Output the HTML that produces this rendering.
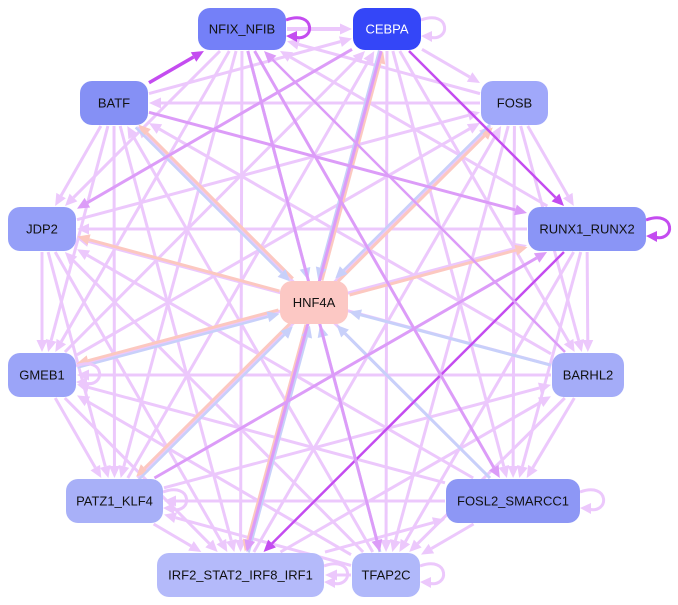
<!DOCTYPE html>
<html><head><meta charset="utf-8"><style>
body{margin:0;background:#fff;width:678px;height:605px;overflow:hidden}
svg{display:block}
text{font-family:"Liberation Sans",sans-serif;font-size:13px;text-anchor:middle;dominant-baseline:central}
</style></head><body>
<svg id="s" width="678" height="605" xmlns="http://www.w3.org/2000/svg"><g id="e"></g><g id="n"></g></svg>
<script>
var N={
NFIX:[198,8,88,42,"#7480f8","NFIX_NFIB","#111"],
CEBPA:[353,8,68,42,"#3446f8","CEBPA","#fff"],
BATF:[80,81,68,44,"#8590f5","BATF","#111"],
FOSB:[481,81,67,44,"#a0a8fa","FOSB","#111"],
JDP2:[8,207,68,44,"#959ff8","JDP2","#111"],
RUNX1:[528,207,118,44,"#8a95f6","RUNX1_RUNX2","#111"],
HNF4A:[280,281,68,43,"#fcc8c4","HNF4A","#111"],
GMEB1:[8,353,68,44,"#9ba4f8","GMEB1","#111"],
BARHL2:[552,353,72,44,"#a4acf8","BARHL2","#111"],
PATZ1:[66,479,97,44,"#a8b0f8","PATZ1_KLF4","#111"],
FOSL2:[446,479,134,44,"#8d97f5","FOSL2_SMARCC1","#111"],
IRF2:[157,553,167,44,"#b4bafa","IRF2_STAT2_IRF8_IRF1","#111"],
TFAP2C:[352,553,68,44,"#b0b8fa","TFAP2C","#111"]};
var L="#ecc8fc",M="#dc9cf8",D="#c44cf0",P="#fcc8c0",B="#c8d0fa";
var per=["NFIX","CEBPA","BATF","FOSB","JDP2","RUNX1","GMEB1","BARHL2","PATZ1","FOSL2","IRF2","TFAP2C"];
var E=[],S=[];
var special={};
function add(a,b,c,w,o){S.push([a,b,c,w,o||0]);special[a+"-"+b]=1;special[b+"-"+a]=1;}
["BATF","JDP2","GMEB1","PATZ1","IRF2","CEBPA","FOSB","RUNX1"].forEach(function(t){S.push(["HNF4A",t,P,3,2])});
["BATF","CEBPA","FOSB","IRF2","GMEB1","PATZ1"].forEach(function(t){S.push([t,"HNF4A",B,2.5,2])});
["NFIX","FOSL2","BARHL2","TFAP2C"].forEach(function(t){S.push([t,"HNF4A",B,3,0])});
add("BATF","NFIX",D,3.5);add("CEBPA","RUNX1",D,2.5);add("RUNX1","IRF2",D,2.5);
add("NFIX","TFAP2C",M,3);add("NFIX","FOSL2",M,3);add("BATF","RUNX1",M,3);
add("CEBPA","JDP2",M,3);add("PATZ1","RUNX1",M,3);add("CEBPA","IRF2",M,3);
add("BARHL2","NFIX",M,2.5);add("NFIX","CEBPA",L,4);
per.forEach(function(a,i){per.forEach(function(b,j){if(j>i&&!special[a+"-"+b]){
 if((i*7+j*3)%2==0)E.push([a,b,L,3,0]);else E.push([b,a,L,3,0]);}})});
E=E.concat(S);
function c(k){var n=N[k];return[n[0]+n[2]/2,n[1]+n[3]/2];}
function clip(k,dx,dy){var n=N[k],hw=n[2]/2+1,hh=n[3]/2+1;return Math.min(Math.abs(hw/(dx||1e-9)),Math.abs(hh/(dy||1e-9)));}
var g=document.getElementById("e"),h="";
E.forEach(function(e){var p=c(e[0]),q=c(e[1]);var dx=q[0]-p[0],dy=q[1]-p[1];
var len=Math.hypot(dx,dy),ux=dx/len,uy=dy/len;
var o=e[4];p=[p[0]-uy*o,p[1]+ux*o];q=[q[0]-uy*o,q[1]+ux*o];
var t0=clip(e[0],dx,dy),t1=clip(e[1],-dx,-dy);
var x1=p[0]+dx*t0,y1=p[1]+dy*t0,x2=q[0]-dx*t1,y2=q[1]-dy*t1;
var al=12,aw=5.5;
var bx=x2-ux*al,by=y2-uy*al;
h+='<line x1="'+x1+'" y1="'+y1+'" x2="'+bx+'" y2="'+by+'" stroke="'+e[2]+'" stroke-width="'+e[3]+'"/>';
h+='<polygon points="'+x2+','+y2+' '+(bx-uy*aw)+','+(by+ux*aw)+' '+(bx+uy*aw)+','+(by-ux*aw)+'" fill="'+e[2]+'"/>';});
function loop(k,col){var n=N[k],x=n[0]+n[2],y=n[1]+n[3]/2;
h+='<path d="M'+x+','+(y-9)+' C'+(x+30)+','+(y-20)+' '+(x+30)+','+(y+14)+' '+(x+8)+','+(y+8)+'" fill="none" stroke="'+col+'" stroke-width="3"/>';
h+='<polygon points="'+x+','+(y+7)+' '+(x+11)+','+(y+2)+' '+(x+11)+','+(y+13)+'" fill="'+col+'"/>';}
loop("NFIX",D);loop("CEBPA",L);loop("RUNX1",D);loop("FOSL2",L);loop("TFAP2C",L);loop("IRF2",L);loop("GMEB1",L);loop("PATZ1",L);
g.innerHTML=h;
var s="";for(var k in N){var n=N[k];s+='<rect x="'+n[0]+'" y="'+n[1]+'" width="'+n[2]+'" height="'+n[3]+'" rx="12" fill="'+n[4]+'"/><text x="'+(n[0]+n[2]/2)+'" y="'+(n[1]+n[3]/2)+'" fill="'+n[6]+'">'+n[5]+'</text>';}
document.getElementById("n").innerHTML=s;
</script>
</body></html>
